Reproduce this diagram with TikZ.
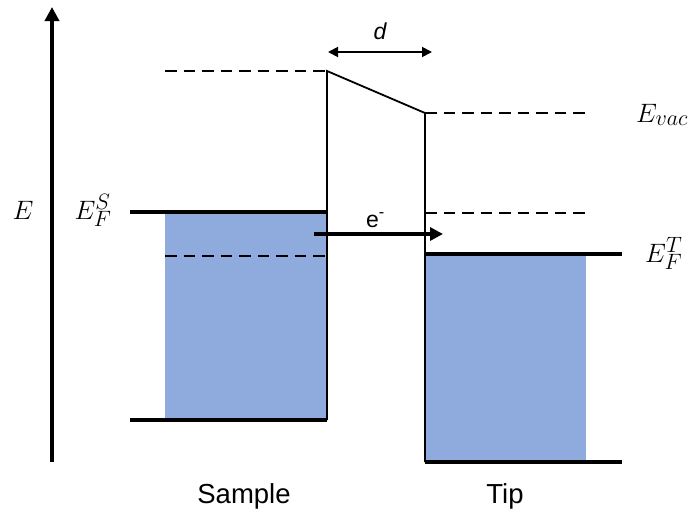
\documentclass[tikz,border=0pt]{standalone}
\usepackage{fontspec}
\usepackage{graphicx}
\setsansfont{Liberation Sans}
\usetikzlibrary{arrows.meta}
\definecolor{band}{HTML}{8FAADC}
\newcommand{\biglab}[1]{\scalebox{1.07}{$#1$}}
\begin{document}
\begin{tikzpicture}[x=1pt,y=-1pt,
  thinline/.style={line width=1.8pt},
  thickline/.style={line width=3.3pt},
  dashline/.style={line width=1.8pt, dash pattern=on 11.5pt off 7pt},
  sanslabel/.style={font=\sffamily\fontsize{27.5}{32}\selectfont, inner sep=0pt},
  smalllabel/.style={font=\sffamily\fontsize{23}{27}\selectfont, inner sep=0pt},
  mathlabel/.style={font=\fontsize{24.88}{30}\selectfont, inner sep=0pt},
]
\useasboundingbox (0,0) rectangle (691,509);
% bands
\fill[band] (165,212) rectangle (327,420);
\fill[band] (425,254) rectangle (586,462);
% key coordinates
\coordinate (svl) at (165,71);
\coordinate (sv) at (327,71);
\coordinate (tv) at (425,113);
\coordinate (tvr) at (590,113);
\coordinate (sb) at (327,420);
\coordinate (sbl) at (130,420);
\coordinate (tb) at (425,462);
\coordinate (tbr) at (622,462);
\coordinate (sfl) at (130,212);
\coordinate (sfr) at (327,212);
\coordinate (sdl) at (165,256);
\coordinate (sdr) at (327,256);
\coordinate (tdl) at (425,213);
\coordinate (tdr) at (590,213);
\coordinate (tfl) at (425,254);
\coordinate (tfr) at (622,254);
% barrier outline
\draw[thinline, line join=miter] (sb) -- (sv) -- (tv) -- (tb);
% dashed levels
\draw[dashline] (svl) -- (sv);
\draw[dashline] (tv) -- (tvr);
\draw[dashline] (sdl) -- (sdr);
\draw[dashline] (tdl) -- (tdr);
% solid levels
\draw[thickline] (sfl) -- (sfr);
\draw[thickline] (sbl) -- (sb);
\draw[thickline] (tfl) -- (tfr);
\draw[thickline] (tb) -- (tbr);
% energy axis
\coordinate (ax0) at (52,462);
\coordinate (ax1) at (52,7);
\draw[line width=4.5pt, -{Triangle[length=14pt,width=14pt]}] (ax0) -- (ax1);
% electron arrow
\coordinate (e0) at (314,234);
\coordinate (e1) at (443,234);
\draw[line width=4pt, -{Triangle[length=13pt,width=13pt]}] (e0) -- (e1);
% distance arrow
\coordinate (d0) at (328,52);
\coordinate (d1) at (432,52);
\draw[line width=1.8pt, {Triangle[length=10pt,width=10pt]}-{Triangle[length=10pt,width=10pt]}] (d0) -- (d1);
% labels
\node[mathlabel, anchor=base] (lE) at (23,219) {\biglab{E}};
\node[mathlabel, anchor=base] (lEFS) at (93,219) {\biglab{E_F^S}};
\node[mathlabel, anchor=base west] (lEvac) at (636,122) {\biglab{E_{vac}}};
\node[mathlabel, anchor=base west] (lEFT) at (645,262) {\biglab{E_F^T}};
\node[smalllabel, anchor=base west] (le) at (366,227) {e\textsuperscript{-}};
\node[smalllabel, anchor=base] (ld) at (380,39) {\itshape d};
\node[sanslabel, anchor=base] (lS) at (244,503) {Sample};
\node[sanslabel, anchor=base] (lT) at (505,503) {Tip};
\end{tikzpicture}
\end{document}
